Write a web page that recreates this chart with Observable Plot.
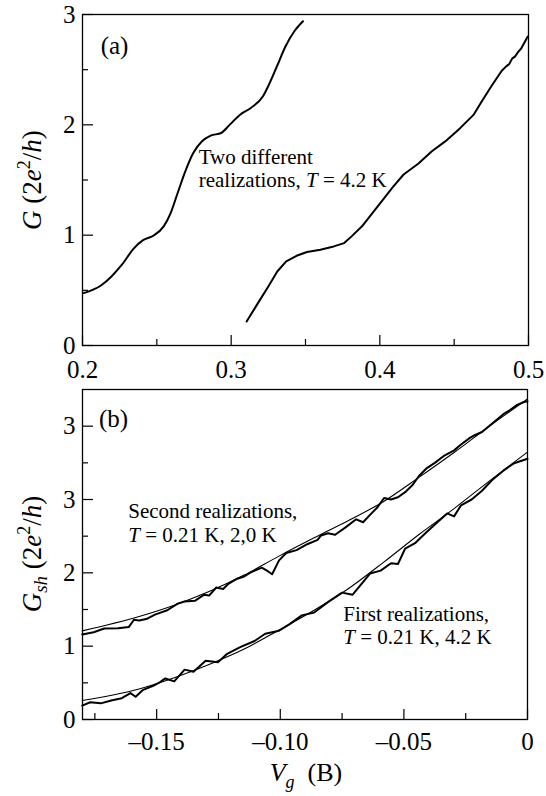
<!DOCTYPE html>
<html><head><meta charset="utf-8">
<script src="https://cdn.jsdelivr.net/npm/d3@7"></script>
<script src="https://cdn.jsdelivr.net/npm/@observablehq/plot@0.6"></script>
<style>
body{margin:0;background:#fff;}
#chart{width:546px;}
svg{display:block;}
</style></head><body><div id="chart"></div>
<script>
// ---------- Panel (a) data ----------
const a1X = [0.2007,0.2124,0.2195,0.2265,0.2347,0.2405,0.2476,0.2546,0.2593,0.2640,0.2687,0.2745,0.2804,0.2862,0.2933,0.2991,0.3062,0.3132,0.3214,0.3249,0.3308,0.3366,0.3425,0.3483];
const a1Y = [0.475,0.544,0.626,0.732,0.883,0.953,0.995,1.080,1.200,1.382,1.563,1.745,1.851,1.902,1.926,2.002,2.093,2.153,2.259,2.350,2.531,2.712,2.848,2.939];
const a2X = [0.3104,0.318,0.325,0.331,0.337,0.344,0.351,0.360,0.369,0.376,0.381,0.388,0.395,0.402,0.409,0.416,0.426,0.435,0.444,0.454,0.463,0.468,0.475,0.482,0.485,0.487,0.489,0.491,0.493,0.495,0.497,0.4995];
const a2Y = [0.218,0.384,0.535,0.671,0.762,0.813,0.847,0.868,0.898,0.928,0.989,1.08,1.20,1.32,1.44,1.55,1.65,1.76,1.85,1.97,2.09,2.20,2.35,2.49,2.53,2.55,2.60,2.62,2.66,2.69,2.74,2.80];

// ---------- Panel (b) data ----------
const bFitX = [-0.1801,-0.1571,-0.1429,-0.1288,-0.1146,-0.1005,-0.0863,-0.0722,-0.0580,-0.0439,-0.0297,-0.0156,0];
const bUpperFitY = [1.209,1.404,1.558,1.744,1.970,2.228,2.477,2.717,2.976,3.302,3.641,3.995,4.370];
const bLowerFitY = [0.258,0.417,0.570,0.750,0.960,1.220,1.490,1.790,2.150,2.523,2.876,3.247,3.646];

const bUpperX = [-0.1801,-0.1755,-0.1712,-0.1656,-0.1613,-0.1592,-0.1571,-0.1542,-0.1507,-0.1457,-0.1415,-0.1387,-0.1344,-0.1309,-0.1288,-0.1259,-0.1231,-0.1210,-0.1174,-0.1146,-0.1118,-0.1075,-0.1054,-0.1033,-0.1005,-0.0976,-0.0934,-0.0891,-0.0849,-0.0835,-0.0807,-0.0778,-0.0736,-0.0693,-0.0665,-0.0637,-0.0608,-0.0580,-0.0552,-0.0524,-0.0495,-0.0467,-0.0439,-0.0410,-0.0375,-0.0340,-0.0297,-0.0269,-0.0233,-0.0212,-0.0184,-0.0156,-0.0127,-0.0099,-0.0071,-0.0042,-0.0014,0];
const bUpperY = [1.16,1.19,1.24,1.245,1.26,1.36,1.35,1.37,1.43,1.49,1.58,1.61,1.62,1.70,1.69,1.80,1.78,1.85,1.92,1.95,2.01,2.07,2.03,1.98,2.17,2.27,2.31,2.39,2.45,2.51,2.54,2.52,2.62,2.73,2.69,2.79,2.89,3.02,3.00,3.03,3.10,3.19,3.32,3.42,3.50,3.59,3.67,3.75,3.84,3.88,3.92,4.00,4.08,4.16,4.22,4.29,4.33,4.34];

const bLowerX = [-0.1801,-0.1769,-0.1726,-0.1684,-0.1641,-0.1606,-0.1585,-0.1557,-0.1514,-0.1486,-0.1465,-0.1429,-0.1387,-0.1351,-0.1302,-0.1252,-0.1217,-0.1160,-0.1104,-0.1061,-0.1005,-0.0962,-0.0913,-0.0863,-0.0807,-0.0750,-0.0708,-0.0637,-0.0594,-0.0552,-0.0524,-0.0495,-0.0453,-0.0410,-0.0368,-0.0325,-0.0297,-0.0269,-0.0226,-0.0184,-0.0142,-0.0099,-0.0057,0];
const bLowerY = [0.19,0.235,0.22,0.26,0.29,0.36,0.31,0.40,0.46,0.51,0.56,0.52,0.68,0.65,0.80,0.78,0.89,0.99,1.07,1.17,1.21,1.30,1.42,1.46,1.60,1.73,1.70,1.99,2.03,2.13,2.12,2.33,2.41,2.55,2.68,2.81,2.77,2.92,3.00,3.12,3.27,3.39,3.49,3.555];

// ---------- Ticks ----------
const aXTicks = [0.2,0.3,0.4,0.5];
const aXLabels = ["0.2","0.3","0.4","0.5"];
const aXMinor = [0.25,0.35,0.45];
const aYTicks = [0,1,2,3];
const aYLabels = ["0","1","2","3"];
const aYMinor = [0.5,1.5,2.5];
const bXTicks = [-0.15,-0.10,-0.05,0];
const bXLabels = ["–0.15","–0.10","–0.05","0"];
const bXMinor = [-0.175,-0.125,-0.075,-0.025];
const bYTicks = [0,1,2,3,4];
const bYLabels = ["0","1","2","3","3"];
const bYMinor = [0.5,1.5,2.5,3.5];

// ---------- Annotations ----------
const annA = [{x:0.2785, y:1.64, parts:[["Two different",false]]},
              {x:0.2785, y:1.43, parts:[["realizations, ",false],["T",true],[" = 4.2 K",false]]}];
const annB = [{x:-0.1613, y:2.735, parts:[["Second realizations,",false]]},
              {x:-0.1613, y:2.42, parts:[["T",true],[" = 0.21 K, 2,0 K",false]]},
              {x:-0.0743, y:1.336, parts:[["First realizations,",false]]},
              {x:-0.0743, y:1.028, parts:[["T",true],[" = 0.21 K, 4.2 K",false]]}];

const FONT = "'Liberation Serif','Times New Roman',serif";
const pts = (xs, ys) => xs.map((x, i) => ({x, y: ys[i]}));
const fmt = (ticks, labels) => d => labels[ticks.findIndex(t => Math.abs(t - d) < 1e-9)];

function axes(xT, xL, xM, yT, yL, yM, xPad) {
  return [
    Plot.axisX(xT, {tickSize: -10, tickFormat: () => "", label: null, strokeWidth: 1.2}),
    Plot.axisX(xM, {tickSize: -6, tickFormat: () => "", label: null, strokeWidth: 1.2}),
    Plot.axisX(xT, {tickSize: 0, tickPadding: xPad, tickFormat: fmt(xT, xL), label: null, fontSize: 25, fontFamily: FONT}),
    Plot.axisY(yT, {tickSize: -11, tickFormat: () => "", label: null, strokeWidth: 1.2}),
    Plot.axisY(yM, {tickSize: -6, tickFormat: () => "", label: null, strokeWidth: 1.2}),
    Plot.axisY(yT, {tickSize: 0, tickPadding: 7, tickFormat: fmt(yT, yL), label: null, fontSize: 25, fontFamily: FONT})
  ];
}

const style = {fontFamily: FONT, color: "black", background: "white", overflow: "visible"};

const plotA = Plot.plot({
  width: 546, height: 380,
  marginLeft: 82, marginRight: 18, marginTop: 14, marginBottom: 35,
  x: {domain: [0.2, 0.5]},
  y: {domain: [0, 3]},
  style,
  marks: [
    Plot.frame({stroke: "black", strokeWidth: 1.3}),
    ...axes(aXTicks, aXLabels, aXMinor, aYTicks, aYLabels, aYMinor, 15),
    Plot.line(pts(a1X, a1Y), {x: "x", y: "y", stroke: "black", strokeWidth: 2, curve: "monotone-x"}),
    Plot.line(pts(a2X, a2Y), {x: "x", y: "y", stroke: "black", strokeWidth: 2, curve: "linear"}),
    Plot.text(["(a)"], {frameAnchor: "top-left", textAnchor: "middle", lineAnchor: "middle", dx: 32, dy: 31, fontSize: 25, fontFamily: FONT, fill: "black"})
  ]
});

const plotB = Plot.plot({
  width: 546, height: 416,
  marginLeft: 82, marginRight: 19, marginTop: 9, marginBottom: 77,
  x: {domain: [-0.18, 0]},
  y: {domain: [0, 4.5]},
  style,
  marks: [
    Plot.frame({stroke: "black", strokeWidth: 1.3}),
    ...axes(bXTicks, bXLabels, bXMinor, bYTicks, bYLabels, bYMinor, 13),
    Plot.line(pts(bFitX, bUpperFitY), {x: "x", y: "y", stroke: "black", strokeWidth: 1.1, curve: "monotone-x"}),
    Plot.line(pts(bFitX, bLowerFitY), {x: "x", y: "y", stroke: "black", strokeWidth: 1.1, curve: "monotone-x"}),
    Plot.line(pts(bUpperX, bUpperY), {x: "x", y: "y", stroke: "black", strokeWidth: 2, curve: "linear"}),
    Plot.line(pts(bLowerX, bLowerY), {x: "x", y: "y", stroke: "black", strokeWidth: 2, curve: "linear"}),
    Plot.text(["(b)"], {frameAnchor: "top-left", textAnchor: "middle", lineAnchor: "middle", dx: 31, dy: 29, fontSize: 25, fontFamily: FONT, fill: "black"})
  ]
});

function annotate(plot, anns) {
  const sx = plot.scale("x"), sy = plot.scale("y");
  const svg = d3.select(plot);
  for (const a of anns) {
    const t = svg.append("text")
      .attr("x", sx.apply(a.x)).attr("y", sy.apply(a.y))
      .attr("text-anchor", "start")
      .attr("font-family", FONT).attr("font-size", 21).attr("fill", "black");
    for (const [s, it] of a.parts) {
      t.append("tspan").attr("font-style", it ? "italic" : "normal").text(s);
    }
  }
}

function yTitle(plot, cx, cy, sub) {
  const t = d3.select(plot).append("text")
    .attr("transform", `translate(${cx},${cy}) rotate(-90)`)
    .attr("text-anchor", "middle")
    .attr("font-family", FONT).attr("font-size", 27).attr("fill", "black");
  t.append("tspan").attr("font-style", "italic").text("G");
  if (sub) t.append("tspan").attr("font-style", "italic").attr("font-size", 19).attr("dy", 6).text("sh");
  t.append("tspan").attr("dy", sub ? -6 : 0).text(" (2");
  t.append("tspan").attr("font-style", "italic").text("e");
  t.append("tspan").attr("font-size", 18).attr("dy", -11).text("2");
  t.append("tspan").attr("dy", 11).text("/");
  t.append("tspan").attr("font-style", "italic").text("h");
  t.append("tspan").text(")");
}

function xTitle(plot, cx, cy) {
  const t = d3.select(plot).append("text")
    .attr("x", cx).attr("y", cy)
    .attr("text-anchor", "middle")
    .attr("font-family", FONT).attr("font-size", 26).attr("fill", "black");
  t.append("tspan").attr("font-style", "italic").text("V");
  t.append("tspan").attr("font-style", "italic").attr("font-size", 18).attr("dy", 7).text("g");
  t.append("tspan").attr("dy", -7).text("\u00a0\u00a0(B)");
}

annotate(plotA, annA);
annotate(plotB, annB);
yTitle(plotA, 41, 180, false);
yTitle(plotB, 41, 174, true);
xTitle(plotB, 306, 401);

document.getElementById("chart").append(plotA, plotB);
</script></body></html>
